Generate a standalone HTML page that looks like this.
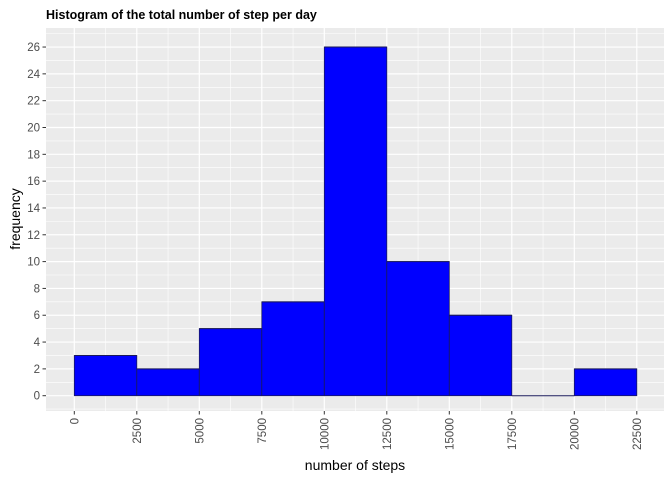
<!DOCTYPE html>
<html><head><meta charset="utf-8"><style>
html,body{margin:0;padding:0;background:#fff;}
svg{display:block;font-family:"Liberation Sans",Arial,sans-serif;}
</style></head><body>
<svg id="chart" width="672" height="480">
<text x="46" y="19" font-size="12.5" font-weight="bold" fill="#000">Histogram of the total number of step per day</text>
<rect x="46" y="28" width="618" height="383" fill="#ebebeb"/>
<g id="grid"></g><g id="bars"></g><g id="axes"></g>
<text x="355" y="470" font-size="14" text-anchor="middle" fill="#000">number of steps</text>
<text transform="translate(20,219) rotate(-90)" font-size="14" text-anchor="middle" fill="#000">frequency</text>
</svg>
<script>
const binStarts=[0,2500,5000,7500,10000,12500,15000,17500,20000];
const binWidth=2500;
const counts=[3,2,5,7,26,10,6,0,2];
const xTicks=[0,2500,5000,7500,10000,12500,15000,17500,20000,22500];
const yTicks=[0,2,4,6,8,10,12,14,16,18,20,22,24,26];
const NS="http://www.w3.org/2000/svg";
function xs(v){return 74.3+v*(62.5/2500);}
function ys(v){return 395.7-v*13.41;}
function mk(tag,attrs,parent){const e=document.createElementNS(NS,tag);for(const k in attrs)e.setAttribute(k,attrs[k]);document.getElementById(parent).appendChild(e);return e;}
for(let i=0;i<xTicks.length-1;i++){
 const l=mk('line',{x1:xs(xTicks[i]+1250),x2:xs(xTicks[i]+1250),y1:28,y2:411,stroke:'#fff','stroke-width':0.6},'grid');
 
 
}
for(let i=0;i<yTicks.length;i++){
 const v=yTicks[i]+1;
 const l=mk('line',{x1:46,x2:664,y1:ys(v),y2:ys(v),stroke:'#fff','stroke-width':0.6},'grid');
 
 
}
{const l=mk('line',{x1:46,x2:664,y1:ys(-1),y2:ys(-1),stroke:'#fff','stroke-width':0.6},'grid');
 
 }
xTicks.forEach(t=>{
 const l=mk('line',{x1:xs(t),x2:xs(t),y1:28,y2:411,stroke:'#fff','stroke-width':1.2},'grid');
 
 
 const k=mk('line',{x1:xs(t),x2:xs(t),y1:411,y2:414.5,stroke:'#333','stroke-width':1},'axes');
 
 
 const tx=mk('text',{transform:`translate(${xs(t)+4},418) rotate(-90)`,'font-size':11.5,'text-anchor':'end',fill:'#4d4d4d'},'axes');
 tx.textContent=t;
 
 
});
yTicks.forEach(t=>{
 const l=mk('line',{x1:46,x2:664,y1:ys(t),y2:ys(t),stroke:'#fff','stroke-width':1.2},'grid');
 
 
 const k=mk('line',{x1:42.5,x2:46,y1:ys(t),y2:ys(t),stroke:'#333','stroke-width':1},'axes');
 
 
 const tx=mk('text',{x:40,y:ys(t)+4,'font-size':11.5,'text-anchor':'end',fill:'#4d4d4d'},'axes');
 tx.textContent=t;
 
 
});
binStarts.forEach((b,i)=>{
 const x0=xs(b),x1=xs(b+binWidth);
 const r=mk('rect',{x:x0,y:ys(counts[i]),width:x1-x0,height:ys(0)-ys(counts[i]),fill:'#0000ff',stroke:'#1a1a5a','stroke-width':0.8},'bars');
 
 
 const tl=mk('line',{x1:x0,x2:x1,y1:ys(counts[i]),y2:ys(counts[i]),stroke:'#1a1a5a','stroke-width':1},'bars');
 
 
});
</script>
</body></html>
